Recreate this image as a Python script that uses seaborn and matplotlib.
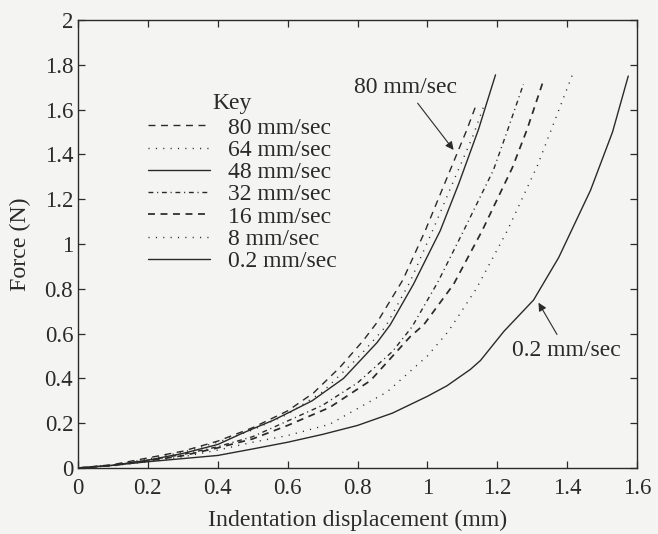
import matplotlib
matplotlib.use("Agg")
import matplotlib.pyplot as plt
import seaborn as sns

# readings: indentation displacement (mm) vs force (N)
x80 = [0, 0.1, 0.2, 0.3, 0.4, 0.5, 0.6, 0.674, 0.75, 0.817, 0.856, 0.93, 0.994, 1.06, 1.113, 1.137]
y80 = [0, 0.015, 0.045, 0.075, 0.12, 0.18, 0.255, 0.335, 0.45, 0.57, 0.65, 0.84, 1.06, 1.31, 1.51, 1.61]

x64 = [0, 0.1, 0.2, 0.3, 0.4, 0.5, 0.6, 0.7, 0.8, 0.88, 0.95, 1.015, 1.08, 1.13, 1.16]
y64 = [0, 0.013, 0.04, 0.07, 0.115, 0.17, 0.24, 0.34, 0.49, 0.63, 0.83, 1.06, 1.3, 1.48, 1.61]

x48 = [0, 0.1, 0.2, 0.3, 0.4, 0.47, 0.56, 0.6, 0.67, 0.76, 0.856, 0.894, 0.96, 1.037, 1.09, 1.146, 1.195]
y48 = [0, 0.012, 0.035, 0.065, 0.105, 0.155, 0.214, 0.245, 0.30, 0.40, 0.56, 0.64, 0.82, 1.06, 1.27, 1.51, 1.755]

x32 = [0, 0.1, 0.2, 0.3, 0.4, 0.5, 0.6, 0.7, 0.8, 0.9, 0.956, 1.03, 1.104, 1.189, 1.23, 1.275]
y32 = [0, 0.012, 0.035, 0.06, 0.095, 0.14, 0.21, 0.28, 0.38, 0.52, 0.63, 0.83, 1.06, 1.33, 1.51, 1.714]

x16 = [0, 0.1, 0.2, 0.3, 0.4, 0.5, 0.6, 0.72, 0.837, 0.95, 0.99, 1.075, 1.157, 1.243, 1.285, 1.33]
y16 = [0, 0.012, 0.032, 0.055, 0.09, 0.13, 0.19, 0.27, 0.39, 0.585, 0.64, 0.82, 1.06, 1.34, 1.51, 1.72]

x8 = [0, 0.1, 0.2, 0.3, 0.4, 0.5, 0.6, 0.72, 0.885, 1.0, 1.06, 1.14, 1.229, 1.315, 1.415]
y8 = [0, 0.01, 0.028, 0.05, 0.08, 0.115, 0.145, 0.195, 0.34, 0.50, 0.61, 0.80, 1.06, 1.35, 1.755]

x02 = [0, 0.1, 0.2, 0.3, 0.4, 0.5, 0.6, 0.7, 0.8, 0.9, 1.0, 1.056, 1.123, 1.152, 1.219, 1.304, 1.376, 1.467, 1.53, 1.575]
y02 = [0, 0.012, 0.028, 0.042, 0.056, 0.085, 0.115, 0.15, 0.19, 0.245, 0.32, 0.367, 0.44, 0.48, 0.61, 0.75, 0.94, 1.24, 1.5, 1.75]

labels = ["80 mm/sec", "64 mm/sec", "48 mm/sec", "32 mm/sec", "16 mm/sec", "8 mm/sec", "0.2 mm/sec"]
curves = [(x80, y80), (x64, y64), (x48, y48), (x32, y32), (x16, y16), (x8, y8), (x02, y02)]
styles = [(0, (5, 4)), (0, (0.8, 4.5)), "-", (0, (3.5, 2.7, 0.8, 2.7)), (0, (4, 3.2)), (0, (0.8, 4.5)), "-"]
widths = [1.0, 1.0, 1.0, 1.0, 1.25, 1.0, 1.0]

sns.set_theme(style="ticks")
plt.rcParams["font.family"] = ["Liberation Serif", "DejaVu Serif"]

ink = "#2a2a2a"
paper = "#f4f4f2"

fig = plt.figure(figsize=(6.58, 5.34), dpi=100, facecolor=paper)
ax = fig.add_axes([78 / 658, 1 - 468 / 534, 559 / 658, 448 / 534])
ax.set_facecolor(paper)

for (xs, ys), lab, ls, lw in zip(curves, labels, styles, widths):
    sns.lineplot(x=xs, y=ys, ax=ax, color=ink, linewidth=lw, linestyle=ls,
                 sort=False, estimator=None, label=lab)

ax.set_xlim(0, 1.6)
ax.set_ylim(0, 2)
ax.set_xticks([0, 0.2, 0.4, 0.6, 0.8, 1.0, 1.2, 1.4, 1.6])
ax.set_xticklabels(["0", "0.2", "0.4", "0.6", "0.8", "1", "1.2", "1.4", "1.6"])
ax.set_yticks([0, 0.2, 0.4, 0.6, 0.8, 1.0, 1.2, 1.4, 1.6, 1.8, 2.0])
ax.set_yticklabels(["0", "0.2", "0.4", "0.6", "0.8", "1", "1.2", "1.4", "1.6", "1.8", "2"])
ax.tick_params(direction="in", length=5, width=0.9, colors=ink, labelsize=16.5,
               top=True, right=True)
ax.tick_params(axis="x", pad=7)
ax.tick_params(axis="y", pad=3.5)
for sp in ax.spines.values():
    sp.set_color(ink)
    sp.set_linewidth(1.0)

ax.set_xlabel("Indentation displacement (mm)", fontsize=17.2, color=ink, labelpad=8)
ax.set_ylabel("Force (N)", fontsize=17.2, color=ink, labelpad=10)

leg = ax.legend(loc="upper left", bbox_to_anchor=(0.125, 0.783),
                frameon=False, fontsize=17, handlelength=2.63,
                handletextpad=0.76, labelspacing=0.03, borderpad=0, borderaxespad=0)
for t in leg.get_texts():
    t.set_color(ink)
ax.text(0.441, 1.625, "Key", ha="center", va="center", fontsize=17, color=ink)

arrow = dict(arrowstyle="-|>", color=ink, lw=0.8, mutation_scale=12, shrinkA=2, shrinkB=0)
ax.annotate("80 mm/sec", xy=(1.075, 1.42), xytext=(0.937, 1.70), ha="center", va="center",
            fontsize=17, color=ink, arrowprops=arrow)
ax.annotate("0.2 mm/sec", xy=(1.318, 0.738), xytext=(1.398, 0.524), ha="center", va="center",
            fontsize=17, color=ink, arrowprops=arrow)

fig.savefig("out.png", dpi=100, facecolor=paper)
